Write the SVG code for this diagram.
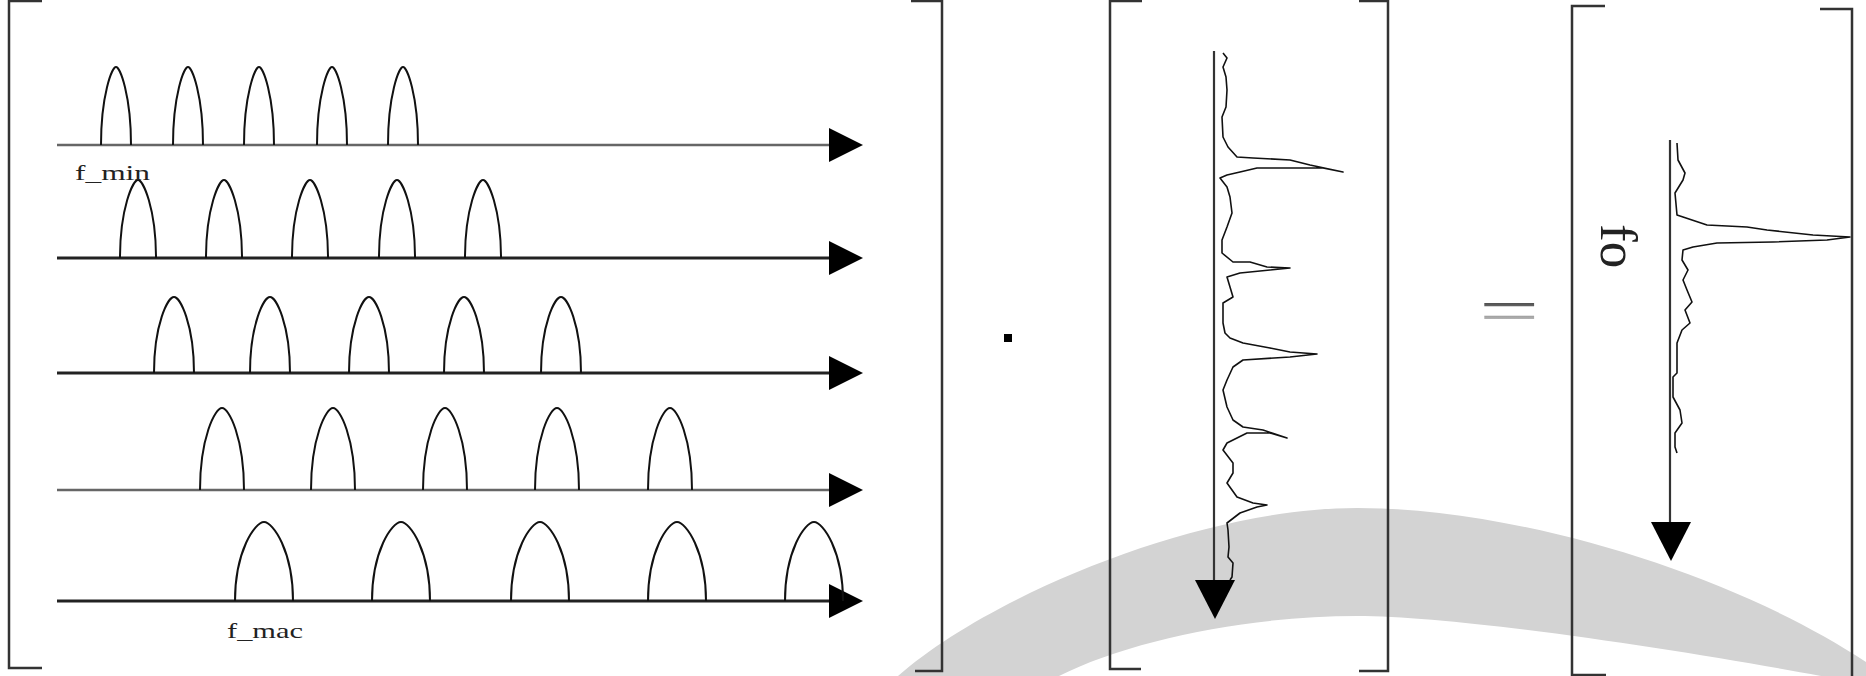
<svg xmlns="http://www.w3.org/2000/svg" width="1866" height="676" viewBox="0 0 1866 676">
<style>
.bk{stroke:#333;stroke-width:2.5;fill:none}
.ax{stroke:#222;stroke-width:3}
.axl{stroke:#666;stroke-width:2.5}
.pk{stroke:#111;stroke-width:2;fill:none}
.sp{stroke:#111;stroke-width:1.6;fill:none;stroke-linejoin:round}
.va{stroke:#333;stroke-width:2.2}
.ah{fill:#000}
.lbl{font-family:"Liberation Serif","Times New Roman",serif;fill:#222}
.eq{font-family:"Liberation Serif","Times New Roman",serif}
</style>
<defs>
<path id="ahR" d="M0,-17 L34,0 L0,17 Z"/>
<path id="ahD" d="M-20,0 L20,0 L0,39 Z"/>
<path id="pk1" d="M-15,0 C-15,-50 -4,-78 0,-78 C4,-78 15,-50 15,0"/>
<path id="pk2" d="M-18,0 C-18,-50 -5,-78 0,-78 C5,-78 18,-50 18,0"/>
<path id="pk3" d="M-20,0 C-20,-49 -6,-76 0,-76 C6,-76 20,-49 20,0"/>
<path id="pk4" d="M-22,0 C-22,-52 -7,-82 0,-82 C7,-82 22,-52 22,0"/>
<path id="pk5" d="M-29,0 C-29,-50 -9,-79 0,-79 C9,-79 29,-50 29,0"/>
<linearGradient id="eqg" gradientUnits="userSpaceOnUse" x1="0" y1="-50" x2="0" y2="-22">
<stop offset="0" stop-color="#4a4a4a"/><stop offset="1" stop-color="#b0b0b0"/>
</linearGradient>
</defs>

<path id="band" d="M898,676 C990,595 1200,508 1357,508 C1520,508 1735,575 1866,662 L1866,676 L1821,676 C1680,650 1460,616 1357,616 C1250,616 1130,640 1059,676 Z" fill="#d3d3d3"/>

<g id="matrix-left">
<path class="bk" d="M42,1 H9 V668 H42"/>
<path class="bk" d="M911,1 H942 V671 H915"/>
<g id="row1">
<line class="axl" x1="57" y1="145" x2="832" y2="145"/>
<use href="#ahR" class="ah" x="829" y="145"/>
<g class="pk"><use href="#pk1" x="116" y="145"/><use href="#pk1" x="188" y="145"/><use href="#pk1" x="259" y="145"/><use href="#pk1" x="332" y="145"/><use href="#pk1" x="403" y="145"/></g>
</g>
<g id="row2">
<line class="ax" x1="57" y1="258" x2="832" y2="258"/>
<use href="#ahR" class="ah" x="829" y="258"/>
<g class="pk"><use href="#pk2" x="138" y="258"/><use href="#pk2" x="224" y="258"/><use href="#pk2" x="310" y="258"/><use href="#pk2" x="397" y="258"/><use href="#pk2" x="483" y="258"/></g>
</g>
<g id="row3">
<line class="ax" x1="57" y1="373" x2="832" y2="373"/>
<use href="#ahR" class="ah" x="829" y="373"/>
<g class="pk"><use href="#pk3" x="174" y="373"/><use href="#pk3" x="270" y="373"/><use href="#pk3" x="369" y="373"/><use href="#pk3" x="464" y="373"/><use href="#pk3" x="561" y="373"/></g>
</g>
<g id="row4">
<line class="axl" x1="57" y1="490" x2="832" y2="490"/>
<use href="#ahR" class="ah" x="829" y="490"/>
<g class="pk"><use href="#pk4" x="222" y="490"/><use href="#pk4" x="333" y="490"/><use href="#pk4" x="445" y="490"/><use href="#pk4" x="557" y="490"/><use href="#pk4" x="670" y="490"/></g>
</g>
<g id="row5">
<line class="ax" x1="57" y1="601" x2="832" y2="601"/>
<use href="#ahR" class="ah" x="829" y="601"/>
<g class="pk"><use href="#pk5" x="264" y="601"/><use href="#pk5" x="401" y="601"/><use href="#pk5" x="540" y="601"/><use href="#pk5" x="677" y="601"/><use href="#pk5" x="814" y="601"/></g>
</g>
<text class="lbl" x="75" y="180" font-size="22" textLength="75" lengthAdjust="spacingAndGlyphs">f_min</text>
<text class="lbl" x="227" y="638" font-size="22" textLength="76" lengthAdjust="spacingAndGlyphs">f_mac</text>
</g>

<g id="op-dot"><rect x="1004" y="334" width="8" height="8" fill="#000"/></g>

<g id="matrix-middle">
<path class="bk" d="M1142,1 H1110 V669 H1141"/>
<path class="bk" d="M1359,1 H1388 V671 H1359"/>
<line class="va" x1="1214" y1="51" x2="1214" y2="585"/>
<use href="#ahD" class="ah" x="1215" y="580"/>
<polyline class="sp" points="1223,53 1227,58 1223,67 1226,77 1227,90 1226,107 1222,117 1223,137 1228,147 1237,157 1253,158 1290,160 1310,165 1343,172 1323,168 1257,168 1240,172 1227,175 1220,178 1227,187 1230,197 1232,213 1227,227 1222,240 1222,253 1233,262 1250,262 1267,267 1290,268 1270,270 1240,273 1227,277 1230,287 1233,297 1223,303 1223,323 1225,333 1230,338 1243,343 1270,348 1290,352 1317,354 1290,357 1243,360 1233,367 1227,380 1223,390 1227,407 1233,420 1243,427 1263,430 1287,438 1270,433 1247,433 1227,443 1223,450 1233,463 1233,473 1227,483 1237,497 1253,503 1267,505 1257,507 1240,513 1227,523 1228,530 1229,547 1228,557 1233,563 1232,577 1230,580"/>
</g>

<g id="op-equals"><text class="eq" transform="translate(1479,331.5) scale(1,0.59)" font-size="107" fill="url(#eqg)">=</text></g>

<g id="matrix-right">
<path class="bk" d="M1605,6 H1572 V676"/>
<path class="bk" d="M1572,675 H1606"/>
<path class="bk" d="M1820,9 H1852 V676"/>
<line class="va" x1="1670" y1="140" x2="1670" y2="526"/>
<use href="#ahD" class="ah" x="1671" y="522"/>
<polyline class="sp" points="1677,143 1678,160 1685,173 1683,180 1675,193 1677,215 1683,217 1707,225 1747,227 1767,230 1813,235 1850,237 1827,240 1773,242 1717,243 1693,247 1683,250 1682,260 1688,270 1683,280 1687,290 1692,302 1685,310 1690,323 1682,330 1677,343 1677,373 1673,377 1673,397 1680,410 1682,423 1675,433 1675,447 1677,453"/>
<text class="lbl" transform="translate(1601,224) rotate(90)" font-size="53">fo</text>
</g>
</svg>
